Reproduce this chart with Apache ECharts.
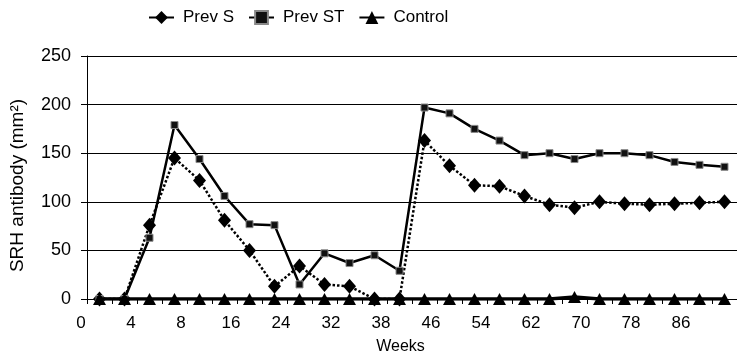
<!DOCTYPE html>
<html>
<head>
<meta charset="utf-8">
<script src="https://cdn.jsdelivr.net/npm/echarts@6/dist/echarts.min.js"></script>
<style>
html,body{margin:0;padding:0;background:#fff;}
#chart{width:737px;height:360px;}
</style>
</head>
<body>
<div id="chart"></div>
<script>
// sampling points (26 measurement times)
const samples = ['s1','s2','s3','s4','s5','s6','s7','s8','s9','s10','s11','s12','s13',
                 's14','s15','s16','s17','s18','s19','s20','s21','s22','s23','s24','s25','s26'];
// tick labels shown under every second sampling point
const tickLabels = ['0','4','8','16','24','32','38','46','54','62','70','78','86'];

const prevS   = [0,0,76,145,122,81,50,13,34,15,13,0,0,163,137,117,116,106,97,94,100,98,97,98,99,100];
const prevST  = [0,0,63,179,144,106,77,76,15,47,37,45,29,197,191,175,163,148,150,144,150,150,148,141,138,136];
const control = [0,0,0,0,0,0,0,0,0,0,0,0,0,0,0,0,0,0,0,2,0,0,0,0,0,0];

const FONT = 'Liberation Sans, Arial, sans-serif';
const chart = echarts.init(document.getElementById('chart'), null, {renderer:'canvas'});

chart.setOption({
  animation: false,
  backgroundColor: '#fff',
  textStyle: {fontFamily: FONT, color: '#000'},
  legend: {
    left: 143, top: 4,
    itemWidth: 25, itemHeight: 16, itemGap: 14,
    textStyle: {fontFamily: FONT, fontSize: 17, color: '#000', padding: [0,0,0,4]},
    lineStyle: {type: 'solid', width: 2},
    data: ['Prev S', 'Prev ST', 'Control']
  },
  grid: {left: 81, top: 56, width: 668, bottom: 57, containLabel: false},
  xAxis: {
    type: 'category',
    data: samples,
    boundaryGap: true,
    name: 'Weeks',
    nameLocation: 'middle',
    nameGap: 40,
    nameTextStyle: {fontFamily: FONT, fontSize: 16, color: '#000', padding: [0, 23, 0, 0]},
    axisLine: {lineStyle: {color: '#000', width: 1}},
    axisTick: {show: true, interval: 0, length: 5, lineStyle: {color: '#000'}},
    axisLabel: {
      interval: 0, margin: 16, fontSize: 17, fontFamily: FONT, color: '#000',
      padding: [0, 37, 0, 0],
      formatter: function (v, i) { return i % 2 === 0 ? tickLabels[i / 2] : ''; }
    },
    splitLine: {show: false}
  },
  yAxis: {
    type: 'value',
    min: 0, max: 250, interval: 50,
    name: 'SRH antibody (mm²)',
    nameLocation: 'middle',
    nameGap: 60,
    nameTextStyle: {fontFamily: FONT, fontSize: 19, color: '#000', padding: [0, 16, 0, 0]},
    axisLine: {show: true, lineStyle: {color: '#000', width: 1}},
    axisTick: {show: true, length: 6, lineStyle: {color: '#000'}},
    axisLabel: {margin: 16, fontSize: 18, fontFamily: FONT, color: '#000'},
    splitLine: {show: true, lineStyle: {color: '#000', width: 1}}
  },
  series: [
    {
      name: 'Prev S', type: 'line', data: prevS,
      symbol: 'diamond', symbolSize: [13, 15], showAllSymbol: true,
      itemStyle: {color: '#000'},
      lineStyle: {color: '#000', width: 2.5, type: [2.5, 2]},
      z: 2
    },
    {
      name: 'Prev ST', type: 'line', data: prevST,
      symbol: 'rect', symbolSize: 7, showAllSymbol: true,
      itemStyle: {color: '#111', borderColor: '#888', borderWidth: 1},
      lineStyle: {color: '#000', width: 2.5, type: 'solid'},
      z: 3
    },
    {
      name: 'Control', type: 'line', data: control,
      symbol: 'triangle', symbolSize: [13, 12], showAllSymbol: true,
      itemStyle: {color: '#000'},
      lineStyle: {color: '#000', width: 3.5, type: 'solid'},
      z: 4
    }
  ]
});
</script>
</body>
</html>
